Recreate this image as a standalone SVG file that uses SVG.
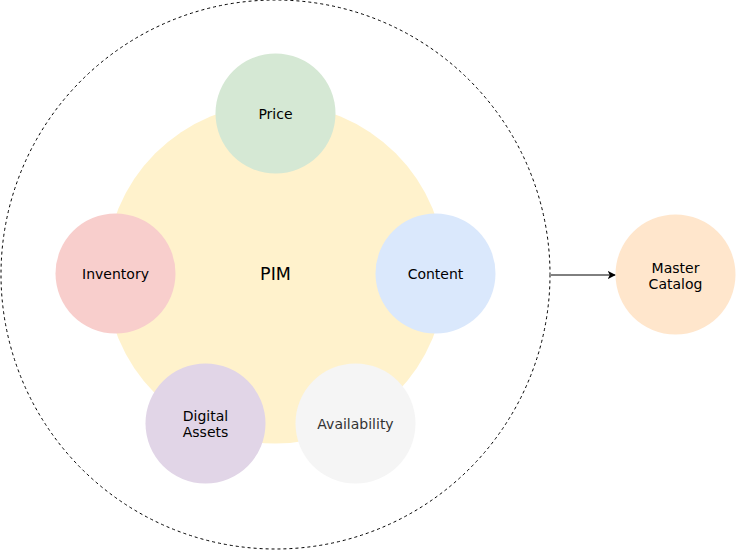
<svg xmlns="http://www.w3.org/2000/svg" width="736" height="551" viewBox="0 0 736 551">
<style>
text{font-family:"DejaVu Sans",Verdana,sans-serif;font-size:14px;fill:#000;text-anchor:middle}
.n{stroke:none}
</style>
<defs>
<marker id="arr" viewBox="0 0 10 10" refX="9" refY="5" markerWidth="8" markerHeight="8" orient="auto" markerUnits="userSpaceOnUse">
<path d="M0,0 L10,5 L0,10 L2.5,5 Z" fill="#000"/>
</marker>
</defs>
<g id="boundary"><circle cx="275.5" cy="274.5" r="274.5" fill="none" stroke="#000" stroke-dasharray="3,3"/></g>
<g id="pim"><circle class="n" cx="275.5" cy="273.5" r="170" fill="#fff2cc"/><text x="275.5" y="279.5" style="font-size:17.5px">PIM</text></g>
<g id="price"><circle class="n" cx="275.5" cy="113.5" r="60" fill="#d5e8d4"/><text x="275.5" y="119">Price</text></g>
<g id="inventory"><circle class="n" cx="115.5" cy="273.5" r="60" fill="#f8cecc"/><text x="115.5" y="279">Inventory</text></g>
<g id="content"><circle class="n" cx="435.5" cy="273.5" r="60" fill="#dae8fc"/><text x="435.5" y="279">Content</text></g>
<g id="digital-assets"><circle class="n" cx="205.5" cy="423.5" r="60" fill="#e1d5e7"/><text x="205.5" y="421">Digital</text><text x="205.5" y="437">Assets</text></g>
<g id="availability"><circle class="n" cx="355.5" cy="423.5" r="60" fill="#f5f5f5"/><text x="355.5" y="429" style="fill:#333">Availability</text></g>
<g id="master-catalog"><circle class="n" cx="675.5" cy="274.5" r="60" fill="#ffe6cc"/><text x="675.5" y="273">Master</text><text x="675.5" y="289">Catalog</text></g>
<g id="connectors"><line x1="551" y1="275" x2="615" y2="275" stroke="#000" stroke-width="1" marker-end="url(#arr)"/></g>
</svg>
